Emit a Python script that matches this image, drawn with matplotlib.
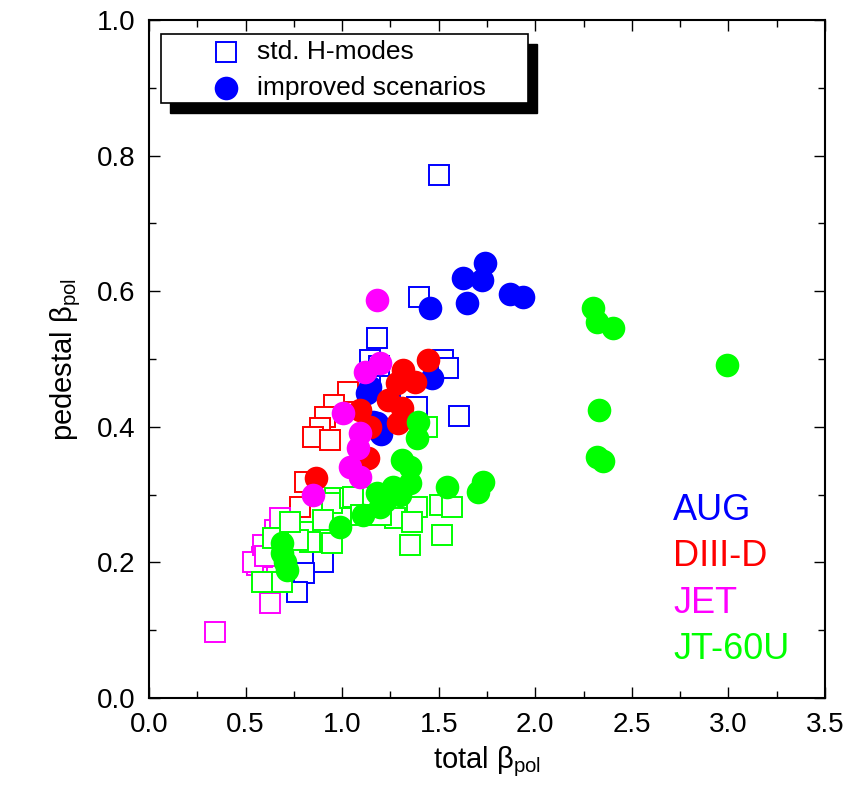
import matplotlib
matplotlib.use("Agg")
import matplotlib.pyplot as plt
from matplotlib.patches import Rectangle
from matplotlib.ticker import MultipleLocator

plt.rcParams['font.family'] = ['Liberation Sans', 'DejaVu Sans']
plt.rcParams['mathtext.fontset'] = 'custom'
plt.rcParams['mathtext.rm'] = 'Liberation Sans'
plt.rcParams['mathtext.it'] = 'Liberation Sans'

# data: (total beta_pol, pedestal beta_pol)
aug_std_x = [1.50, 1.40, 1.18, 1.52, 1.55, 1.606, 1.388, 1.145, 1.19, 1.25, 0.90, 0.80, 0.767]
aug_std_y = [0.771, 0.592, 0.531, 0.499, 0.487, 0.416, 0.429, 0.499, 0.49, 0.46, 0.20, 0.184, 0.156]
aug_imp_x = [1.627, 1.741, 1.725, 1.648, 1.456, 1.870, 1.938, 1.466, 1.145, 1.18, 1.20, 1.16, 1.13]
aug_imp_y = [0.619, 0.642, 0.617, 0.583, 0.575, 0.596, 0.592, 0.472, 0.459, 0.405, 0.39, 0.407, 0.45]

d3d_std_x = [1.03, 0.958, 0.912, 0.886, 0.85, 0.938, 0.808, 0.782]
d3d_std_y = [0.451, 0.432, 0.415, 0.398, 0.385, 0.381, 0.319, 0.282]
d3d_imp_x = [1.446, 1.316, 1.378, 1.285, 1.238, 1.311, 1.29, 1.093, 1.145, 0.865, 1.135]
d3d_imp_y = [0.499, 0.484, 0.466, 0.465, 0.44, 0.428, 0.406, 0.425, 0.40, 0.325, 0.354]

jet_std_x = [0.342, 0.627, 0.56, 0.585, 0.54, 0.591, 0.653, 0.679, 0.60]
jet_std_y = [0.097, 0.14, 0.196, 0.208, 0.20, 0.226, 0.248, 0.266, 0.21]
jet_imp_x = [1.18, 1.119, 1.197, 1.005, 1.093, 1.083, 1.041, 1.093, 0.85]
jet_imp_y = [0.587, 0.481, 0.494, 0.42, 0.391, 0.369, 0.341, 0.326, 0.30]

jt_std_x = [0.964, 0.948, 1.04, 0.902, 0.798, 0.948, 0.834, 0.64, 0.77, 0.585, 0.689,
            1.057, 1.16, 1.352, 1.275, 1.352, 1.508, 1.57, 1.389, 1.363, 1.518, 1.44,
            0.73, 1.20, 1.10]
jt_std_y = [0.295, 0.288, 0.295, 0.263, 0.245, 0.228, 0.23, 0.236, 0.233, 0.171, 0.171,
            0.296, 0.296, 0.28, 0.265, 0.226, 0.285, 0.282, 0.282, 0.26, 0.24, 0.40,
            0.26, 0.27, 0.27]
jt_imp_x = [2.30, 2.32, 2.40, 2.995, 2.33, 2.32, 2.35, 1.394, 1.389, 1.311, 1.352,
            1.544, 1.352, 1.264, 1.181, 1.705, 1.731, 0.99, 1.109, 1.197, 1.249,
            0.689, 0.705, 0.689, 0.715, 1.30, 1.22]
jt_imp_y = [0.575, 0.555, 0.545, 0.491, 0.425, 0.356, 0.35, 0.407, 0.383, 0.351, 0.341,
            0.311, 0.317, 0.311, 0.302, 0.304, 0.319, 0.252, 0.27, 0.282, 0.30,
            0.229, 0.2, 0.214, 0.189, 0.30, 0.29]

machines = ['AUG', 'DIII-D', 'JET', 'JT-60U']
colors = ['#0000ff', '#ff0000', '#ff00ff', '#00ff00']

fig = plt.figure(figsize=(8.51, 8.02), dpi=100)
ax = fig.add_axes([149/851, 104/802, 676/851, 678/802])

sq = dict(marker='s', ls='none', ms=14.5, mfc='white', mew=1.4)
ci = dict(marker='o', ls='none', ms=17, mew=0)

std = [(aug_std_x, aug_std_y), (d3d_std_x, d3d_std_y), (jet_std_x, jet_std_y), (jt_std_x, jt_std_y)]
imp = [(aug_imp_x, aug_imp_y), (d3d_imp_x, d3d_imp_y), (jet_imp_x, jet_imp_y), (jt_imp_x, jt_imp_y)]

for (x, y), c in zip(std, colors):
    ax.plot(x, y, mec=c, **sq)
for (x, y), c in zip(imp, colors):
    ax.plot(x, y, color=c, **ci)

ax.set_xlim(0, 3.5)
ax.set_ylim(0, 1.0)
ax.xaxis.set_major_locator(MultipleLocator(0.5))
ax.xaxis.set_minor_locator(MultipleLocator(0.25))
ax.yaxis.set_major_locator(MultipleLocator(0.2))
ax.yaxis.set_minor_locator(MultipleLocator(0.1))
ax.xaxis.set_major_formatter('{x:.1f}')
ax.yaxis.set_major_formatter('{x:.1f}')
ax.tick_params(which='both', direction='in', top=True, right=True, width=1.0, labelsize=20, pad=10)
ax.tick_params(which='major', length=8)
ax.tick_params(which='minor', length=5)
for s in ax.spines.values():
    s.set_linewidth(1.5)

ax.set_xlabel('total β$_{\\mathrm{pol}}$', fontsize=21, labelpad=5)
ax.set_ylabel('pedestal β$_{\\mathrm{pol}}$', fontsize=21, labelpad=10)

# machine names
for i, (m, c) in enumerate(zip(machines, colors)):
    ax.text(2.715, 0.277 - i * 0.0685, m, color=c, fontsize=26, va='center', ha='left')

# legend box with black shadow
W, H = 676.0, 678.0
ax.add_patch(Rectangle((0.018 + 9/W, 0.878 - 10/H), 0.543, 0.101, transform=ax.transAxes,
                       fc='black', ec='black', zorder=9))
ax.add_patch(Rectangle((0.018, 0.878), 0.543, 0.101, transform=ax.transAxes,
                       fc='white', ec='black', lw=1.2, zorder=10))
ax.plot([0.114], [0.953], transform=ax.transAxes, mec='#0000ff', zorder=11, clip_on=False, **sq)
ax.plot([0.114], [0.900], transform=ax.transAxes, color='#0000ff', zorder=11, clip_on=False, **ci)
ax.text(0.160, 0.953, 'std. H-modes', transform=ax.transAxes, fontsize=19, va='center', zorder=11)
ax.text(0.160, 0.900, 'improved scenarios', transform=ax.transAxes, fontsize=19, va='center', zorder=11)

fig.savefig('out.png', dpi=100)
